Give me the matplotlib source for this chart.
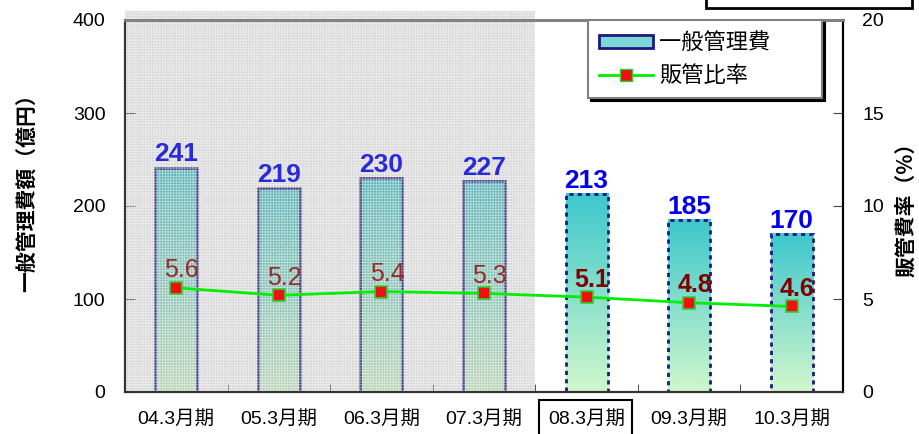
import numpy as np
import matplotlib
matplotlib.use("Agg")
import matplotlib.pyplot as plt
from matplotlib.patches import Rectangle, Patch
from matplotlib.lines import Line2D

# data
periods = ["04.3月期", "05.3月期", "06.3月期", "07.3月期", "08.3月期", "09.3月期", "10.3月期"]
admin_cost = [241, 219, 230, 227, 213, 185, 170]     # 一般管理費 (億円)
sga_ratio = [5.6, 5.2, 5.4, 5.3, 5.1, 4.8, 4.6]     # 販管比率 (%)
n_actual = 4   # first four are actuals, rest are plan

latin_cjk = ["Liberation Sans", "Noto Sans CJK JP"]
cjk = ["Noto Sans CJK JP", "DejaVu Sans"]
plt.rcParams["font.family"] = latin_cjk
plt.rcParams["hatch.linewidth"] = 0.7

fig = plt.figure(figsize=(9.19, 4.34), dpi=100)
W, H = 919, 434
ax = fig.add_axes([125 / W, 1 - 392 / H, 718 / W, 372 / H])
ax2 = ax.twinx()

x = np.arange(len(periods))
bw = 0.41

# gradient bars
grad = np.linspace(0, 1, 256).reshape(-1, 1)
top_c = np.array([0.24, 0.78, 0.80])
bot_c = np.array([0.82, 0.97, 0.80])
img = top_c[None, None, :] * grad[:, :, None] + bot_c[None, None, :] * (1 - grad[:, :, None])
img = img[::-1]
for i, v in enumerate(admin_cost):
    ax.imshow(img, extent=[x[i] - bw / 2, x[i] + bw / 2, 0, v], aspect="auto", zorder=2,
              origin="upper")
    ls = "-" if i < n_actual else (0, (1.5, 1.5))
    ax.add_patch(Rectangle((x[i] - bw / 2, 0), bw, v, facecolor="none", edgecolor="#1a1a80",
                           lw=2, ls=ls, zorder=3))
    col = "#2a2ad8" if i < n_actual else "#0000ee"
    ax.annotate(str(v), (x[i], v), xytext=(0, 1), textcoords="offset points",
                ha="center", va="bottom", fontsize=19, fontweight="bold", color=col, zorder=6)

# hatched grey shading over the actual years
ax.add_patch(Rectangle((-0.5, 0), n_actual, 410, facecolor=(0.5, 0.5, 0.5, 0.32),
                       edgecolor="none", lw=0, zorder=4, clip_on=False))
ax.add_patch(Rectangle((-0.5, 0), n_actual, 410, facecolor="none",
                       edgecolor=(1, 1, 1, 0.5), hatch="++++++", lw=0, zorder=4, clip_on=False))

ax.set_xlim(-0.5, len(periods) - 0.5)
ax.set_ylim(0, 400)
ax.set_yticks([0, 100, 200, 300, 400])
ax.set_xticks(x)
ax.set_xticklabels(periods, fontsize=14)
ax.set_xticks(np.arange(len(periods) + 1) - 0.5, minor=True)
ax.tick_params(axis="x", which="major", length=0, pad=13)
ax.tick_params(axis="x", which="minor", direction="in", length=6, color="#333333")
ax.tick_params(axis="y", direction="in", length=7, labelsize=14, color="#444444", pad=14)
ax.set_ylabel("一般管理費額（億円）", family=cjk, fontsize=15, fontweight="bold")
ax.yaxis.set_label_coords(-0.122, 0.55)

# ratio line
ax2.plot(x, sga_ratio, color="#00ee00", lw=2, marker="s", markersize=8,
         markerfacecolor="#ee1111", markeredgecolor="#33cc33", markeredgewidth=1.2, zorder=5)
for i, r in enumerate(sga_ratio):
    col = "#9a2a2a" if i < n_actual else "#800000"
    fw = "normal" if i < n_actual else "bold"
    ax2.annotate(f"{r}", (x[i], r), xytext=(4, 4), textcoords="offset points",
                 ha="center", va="bottom", fontsize=18, fontweight=fw, color=col, zorder=6)
ax2.set_ylim(0, 20)
ax2.set_yticks([0, 5, 10, 15, 20])
ax2.tick_params(axis="y", direction="in", length=7, labelsize=14, color="#444444", pad=14)
ax2.set_ylabel("販管費率（%）", family=cjk, fontsize=15, fontweight="bold")
ax2.yaxis.set_label_coords(1.073, 0.505)

for a in (ax, ax2):
    a.spines["top"].set_color("#808080")
    a.spines["top"].set_linewidth(2)
    a.spines["left"].set_color("#333333")
    a.spines["left"].set_linewidth(1.5)
    a.spines["right"].set_color("black")
    a.spines["right"].set_linewidth(1.5)
    a.spines["bottom"].set_color("#333333")
    a.spines["bottom"].set_linewidth(1.5)

# legend
handles = [Patch(facecolor="#7fd8d8", edgecolor="#1a1a80", lw=2),
           Line2D([0], [0], color="#00ee00", lw=2, marker="s", markersize=8,
                  markerfacecolor="#ee1111", markeredgecolor="#33cc33")]
leg = ax2.legend(handles, ["一般管理費", "販管比率"], loc="upper left",
                 bbox_to_anchor=(0.645, 1.0, 0.326, 0.0), mode="expand", borderaxespad=0,
                 prop={"family": cjk, "size": 16}, fancybox=False, framealpha=1,
                 edgecolor="#808080", handlelength=2.4, handleheight=0.5, handletextpad=0.3,
                 labelspacing=0.45, borderpad=0.5, shadow={"color": "black", "alpha": 1})
leg.get_frame().set_linewidth(1.5)
leg.set_zorder(10)

# box around the first plan year label
fig.patches.append(Rectangle((539 / W, -0.05), 93 / W, 0.05 + 34 / H, transform=fig.transFigure,
                             facecolor="none", edgecolor="black", lw=1.5, figure=fig))
# clipped note box at the top right
fig.patches.append(Rectangle((706 / W, 1 - 8 / H), 206 / W, 0.1, transform=fig.transFigure,
                             facecolor="white", edgecolor="black", lw=2, figure=fig))

fig.savefig("out.png", dpi=100)
